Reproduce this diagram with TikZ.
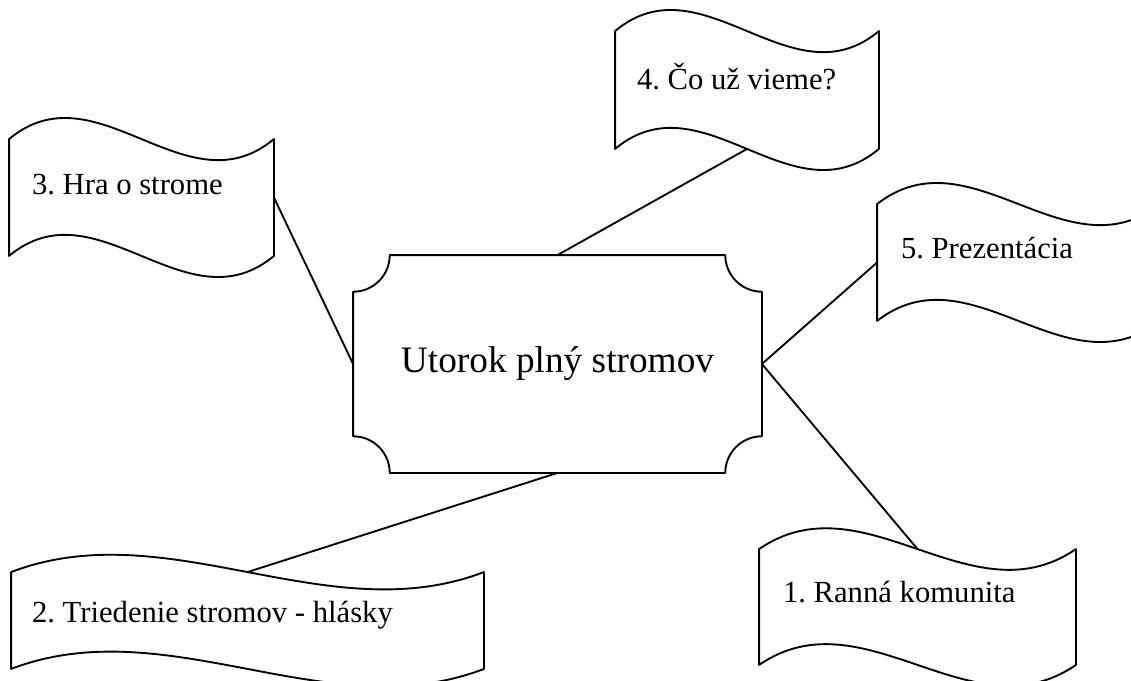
\documentclass[tikz,border=0pt]{standalone}
\usepackage{fontspec}
\setmainfont{Liberation Serif}
\frenchspacing
\usetikzlibrary{calc, fit}

\tikzset{
    flag/.style={inner sep=0pt, draw=none},
    flagtext/.style={anchor=base west, inner sep=0pt, font=\fontsize{23}{27}\selectfont},
    plaque/.style={inner sep=0pt, draw=none, minimum width=305.25pt, minimum height=162pt,
        font=\fontsize{28}{32}\selectfont},
}

\begin{document}
\begin{tikzpicture}[x=0.75pt, y=-0.75pt, line width=1.4pt, line join=round]
    \path[use as bounding box, clip] (0,0) rectangle (1131,681);
    \fill[white] (0,0) rectangle (1131,681);

    % flags
    \node[flag, fit={(10,140) (273,255)}] (hra) {};
    \node[flag, fit={(616,32) (878,148)}] (vieme) {};
    \node[flag, fit={(878,205) (1159,320)}] (prezentacia) {};
    \node[flag, fit={(760,550) (1075,664)}] (ranna) {};
    \node[flag, fit={(12,573) (483,668)}] (triedenie) {};

    \foreach \n/\w/\h in {hra/263/73, vieme/262/73, prezentacia/281/73, ranna/315/72, triedenie/471/60}
        \draw (\n.north west) .. controls +(\w/3,-\h) and +(-\w/3,\h) .. (\n.north east)
            -- (\n.south east) .. controls +(-\w/3,\h) and +(\w/3,-\h) .. (\n.south west) -- cycle;

    \node[flagtext] at ($(hra.west) + (22, -2.5)$) (hra-text) {3. Hra o strome};
    \node[flagtext] at ($(vieme.west) + (21, 0)$) (vieme-text) {4. Čo už vieme?};
    \node[flagtext] at ($(prezentacia.west) + (23, -4.5)$) (prezentacia-text) {5. Prezentácia};
    \node[flagtext] at ($(ranna.west) + (23, -5)$) (ranna-text) {1. Ranná komunita};
    \node[flagtext] at ($(triedenie.west) + (20, 1.5)$) (triedenie-text) {2. Triedenie stromov - hlásky};

    % center
    \node[plaque] at (557.5,364) (utorok) {Utorok plný stromov};
    \draw ([xshift=27.5pt]utorok.north west) -- ([xshift=-27.5pt]utorok.north east)
        arc[start angle=180, end angle=270, radius=27.5pt]
        -- ([yshift=27.5pt]utorok.south east)
        arc[start angle=90, end angle=180, radius=27.5pt]
        -- ([xshift=27.5pt]utorok.south west)
        arc[start angle=0, end angle=90, radius=27.5pt]
        -- ([yshift=-27.5pt]utorok.north west)
        arc[start angle=270, end angle=360, radius=27.5pt] -- cycle;

    \draw (utorok.north) -- (vieme.south);
    \draw (utorok.west) -- (hra.east);
    \draw (utorok.east) -- (prezentacia.west);
    \draw (utorok.east) -- (ranna.north);
    \draw (utorok.south) -- (triedenie.north);
\end{tikzpicture}
\end{document}
